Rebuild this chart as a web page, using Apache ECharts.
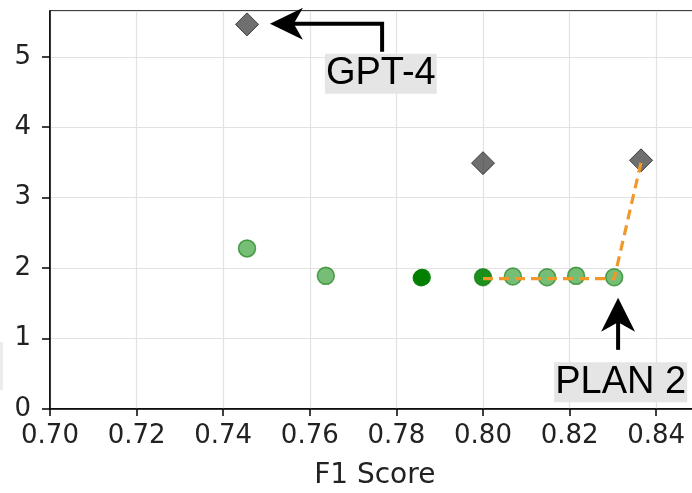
<!DOCTYPE html>
<html>
<head>
<meta charset="utf-8">
<script src="https://cdn.jsdelivr.net/npm/echarts@6/dist/echarts.min.js"></script>
<style>
  html, body { margin: 0; padding: 0; background: #fff; }
  #chart { width: 692px; height: 493px; }
</style>
</head>
<body>
<div id="chart"></div>
<script>
// values
const xTicks = [0.70, 0.72, 0.74, 0.76, 0.78, 0.80, 0.82, 0.84];
const yTicks = [0, 1, 2, 3, 4, 5];

const grayDiamonds = [[0.7455, 5.46], [0.800, 3.49], [0.8365, 3.53]];
const lightGreen = [[0.7455, 2.28], [0.7637, 1.89], [0.800, 1.87], [0.8069, 1.88], [0.8148, 1.87], [0.8215, 1.89], [0.8303, 1.87]];
const darkGreen = [[0.7857, 1.86], [0.7860, 1.87], [0.800, 1.87]];
const frontier = [[0.800, 1.85], [0.8069, 1.85], [0.8148, 1.85], [0.8215, 1.85], [0.8303, 1.85], [0.8365, 3.50]];

// annotation anchors in data units
const gptArrow = [[0.7767, 5.07], [0.7767, 5.47], [0.7508, 5.47]];
const gptLabel = [0.7764, 4.76];
const planArrow = [[0.8312, 0.84], [0.8312, 1.58]];
const planLabel = [0.8318, 0.38];

const chart = echarts.init(document.getElementById('chart'));

chart.setOption({
  animation: false,
  grid: {
    left: 50, top: 11, width: 649.5, height: 398,
    outerBoundsMode: 'none', containLabel: false,
    show: true, borderColor: '#000', borderWidth: 1.5
  },
  xAxis: {
    type: 'value', min: 0.70, max: 0.85, interval: 0.02,
    name: 'F1 Score', nameLocation: 'middle', nameGap: 53,
    nameTextStyle: { fontFamily: 'DejaVu Sans', fontSize: 28, color: '#222' },
    axisLine: { show: true, lineStyle: { color: '#000', width: 1.5 } },
    axisTick: { show: true, length: 7, lineStyle: { color: '#000', width: 1.5 } },
    axisLabel: {
      fontFamily: 'DejaVu Sans', fontSize: 26, color: '#222', margin: 14,
      showMaxLabel: false,
      formatter: v => v.toFixed(2)
    },
    splitLine: { show: true, lineStyle: { color: '#e2e2e2', width: 1.2 } }
  },
  yAxis: {
    type: 'value', min: 0, max: 5.65, interval: 1,
    axisLine: { show: true, lineStyle: { color: '#000', width: 1.5 } },
    axisTick: { show: true, length: 8, lineStyle: { color: '#000', width: 1.5 } },
    axisLabel: {
      fontFamily: 'DejaVu Sans', fontSize: 26, color: '#222', margin: 19,
      showMaxLabel: false
    },
    splitLine: { show: true, lineStyle: { color: '#e2e2e2', width: 1.2 } }
  },
  series: [
    {
      type: 'scatter', data: grayDiamonds, symbol: 'diamond', symbolSize: 23,
      itemStyle: { color: 'rgba(35,35,35,0.82)', borderColor: '#222', borderWidth: 1 },
      z: 3
    },
    {
      type: 'scatter', data: darkGreen, symbol: 'circle', symbolSize: 17,
      itemStyle: { color: '#008000', opacity: 0.95 },
      z: 3
    },
    {
      type: 'scatter', data: lightGreen, symbol: 'circle', symbolSize: 17,
      itemStyle: { color: 'rgba(35,150,35,0.78)', borderColor: 'rgba(25,125,25,0.85)', borderWidth: 1.5 },
      z: 4
    },
    {
      type: 'line', data: frontier, showSymbol: false, symbol: 'none',
      lineStyle: { color: '#f0982a', width: 3.2, type: [10, 6] },
      z: 5
    }
  ]
});

function px(p) { return chart.convertToPixel({ gridIndex: 0 }, p); }

function arrowHead(tip, dir, len, half) {
  // dir: unit vector pointing toward tip
  const bx = tip[0] - dir[0] * len, by = tip[1] - dir[1] * len;
  const nx = -dir[1], ny = dir[0];
  const ix = tip[0] - dir[0] * len * 0.72, iy = tip[1] - dir[1] * len * 0.72;
  return [tip, [bx + nx * half, by + ny * half], [ix, iy], [bx - nx * half, by - ny * half]];
}

const g1 = gptArrow.map(px);
const gTip = g1[2];
const p1 = planArrow.map(px);
const pTip = p1[1];
const gl = px(gptLabel);
const pl = px(planLabel);

chart.setOption({
  graphic: [
    { type: 'rect', shape: { x: 0, y: 342, width: 3, height: 48 }, style: { fill: '#ececec' } },
    {
      type: 'polyline', z: 20,
      shape: { points: [g1[0], g1[1], [gTip[0] + 20, gTip[1]]] },
      style: { stroke: '#000', lineWidth: 4, fill: null }
    },
    {
      type: 'polygon', z: 20,
      shape: { points: arrowHead(gTip, [-1, 0], 33, 16) },
      style: { fill: '#000' }
    },
    {
      type: 'line', z: 20,
      shape: { x1: p1[0][0], y1: p1[0][1], x2: pTip[0], y2: pTip[1] + 20 },
      style: { stroke: '#000', lineWidth: 4 }
    },
    {
      type: 'polygon', z: 20,
      shape: { points: arrowHead(pTip, [0, -1], 34, 17) },
      style: { fill: '#000' }
    },
    {
      type: 'text', z: 21, x: gl[0], y: gl[1],
      style: {
        text: 'GPT-4', fontFamily: 'Liberation Sans', fontSize: 38, fill: '#000',
        align: 'center', verticalAlign: 'middle',
        backgroundColor: '#e5e5e5', padding: [2, 1, 0, 1]
      }
    },
    {
      type: 'text', z: 21, x: pl[0], y: pl[1],
      style: {
        text: 'PLAN 2', fontFamily: 'Liberation Sans', fontSize: 38, fill: '#000',
        align: 'center', verticalAlign: 'middle',
        backgroundColor: '#e5e5e5', padding: [2, 1, 0, 1]
      }
    }
  ]
});
</script>
</body>
</html>
